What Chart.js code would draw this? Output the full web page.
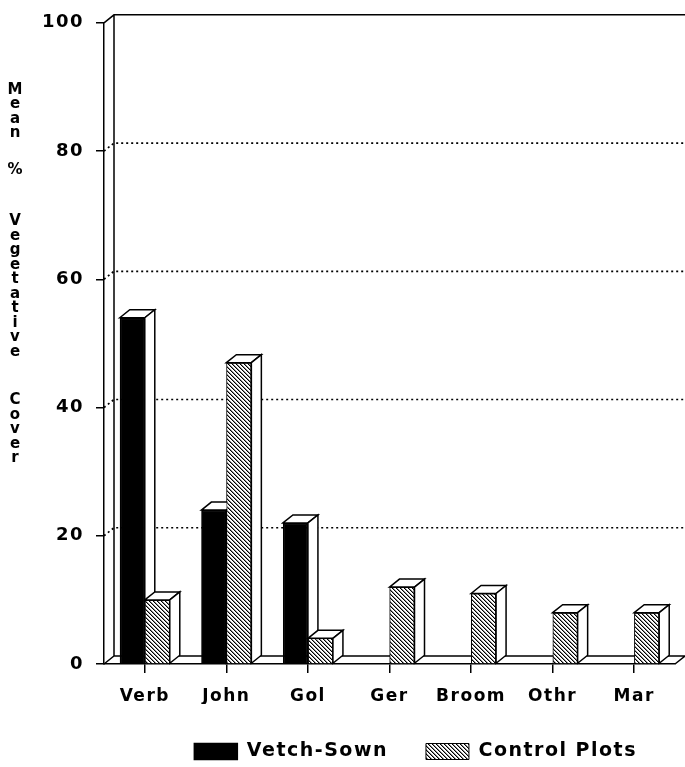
<!DOCTYPE html>
<html>
<head>
<meta charset="utf-8">
<script src="https://cdn.jsdelivr.net/npm/chart.js@4.4.1/dist/chart.umd.min.js"></script>
<style>
  html, body { margin: 0; padding: 0; background: #fff; }
  #wrap { width: 685px; height: 767px; position: relative; }
</style>
</head>
<body>
<div id="wrap"><canvas id="c" width="685" height="767"></canvas></div>
<script>
const categories = ['Verb', 'John', 'Gol', 'Ger', 'Broom', 'Othr', 'Mar'];
const vetchSown = [54, 24, 22, 0, 0, 0, 0];
const controlPlots = [10, 47, 4, 12, 11, 8, 8];
const seriesNames = ['Vetch-Sown', 'Control Plots'];
const yTickValues = [0, 20, 40, 60, 80, 100];
const yTitle = 'Mean % Vegetative Cover';

const FONT = 'DejaVu Sans';
const SPACING = '1.5px';
const DX = 10, DY = -8;

function makeHatch() {
  const s = 4;
  const c = document.createElement('canvas');
  c.width = s; c.height = s;
  const g = c.getContext('2d');
  const img = g.createImageData(s, s);
  for (let y = 0; y < s; y++) {
    for (let x = 0; x < s; x++) {
      const d = ((x - y) % s + s) % s;
      let v = 255;
      if (d === 0) v = 0; else if (d === 1) v = 140;
      const i = (y * s + x) * 4;
      img.data[i] = v; img.data[i + 1] = v; img.data[i + 2] = v; img.data[i + 3] = 255;
    }
  }
  g.putImageData(img, 0, 0);
  return document.getElementById('c').getContext('2d').createPattern(c, 'repeat');
}
const hatch = makeHatch();

const spacingPlugin = {
  id: 'spacing',
  beforeUpdate(chart) { chart.ctx.letterSpacing = SPACING; },
  beforeLayout(chart) { chart.ctx.letterSpacing = SPACING; },
  beforeDraw(chart) { chart.ctx.letterSpacing = SPACING; }
};

const framePlugin = {
  id: 'frame3d',
  beforeDatasetsDraw(chart) {
    const ctx = chart.ctx;
    const ys = chart.scales.y;
    const a = chart.chartArea;
    const W = chart.width;
    ctx.save();
    ctx.strokeStyle = '#000';
    ctx.lineWidth = 1.5;
    ctx.beginPath();
    ctx.moveTo(a.left, a.top); ctx.lineTo(a.left + DX, a.top + DY);
    ctx.lineTo(W, a.top + DY);
    ctx.moveTo(a.left + DX, a.top + DY); ctx.lineTo(a.left + DX, a.bottom + DY);
    ctx.moveTo(a.left, a.bottom); ctx.lineTo(a.left + DX, a.bottom + DY);
    ctx.lineTo(W, a.bottom + DY);
    ctx.moveTo(a.right, a.bottom); ctx.lineTo(a.right + DX, a.bottom + DY);
    ctx.stroke();
    ctx.setLineDash([2, 3]);
    ctx.lineWidth = 1.7;
    yTickValues.forEach(v => {
      if (v === 0 || v === 100) return;
      const py = ys.getPixelForValue(v);
      ctx.beginPath();
      ctx.moveTo(a.left, py);
      ctx.lineTo(a.left + DX, py + DY);
      ctx.lineTo(W, py + DY);
      ctx.stroke();
    });
    ctx.restore();
  },
  afterDatasetsDraw(chart) {
    const ctx = chart.ctx;
    const n = categories.length;
    ctx.save();
    for (let i = 0; i < n; i++) {
      for (let d = 0; d < chart.data.datasets.length; d++) {
        const meta = chart.getDatasetMeta(d);
        const val = chart.data.datasets[d].data[i];
        if (!val) continue;
        const el = meta.data[i];
        el.draw(ctx);
        const p = el.getProps(['x', 'y', 'base', 'width'], true);
        const l = p.x - p.width / 2, r = p.x + p.width / 2;
        ctx.fillStyle = '#fff';
        ctx.strokeStyle = '#000';
        ctx.lineWidth = 1.5;
        ctx.beginPath();
        ctx.moveTo(l, p.y); ctx.lineTo(l + DX, p.y + DY);
        ctx.lineTo(r + DX, p.y + DY); ctx.lineTo(r, p.y); ctx.closePath();
        ctx.fill(); ctx.stroke();
        ctx.beginPath();
        ctx.moveTo(r, p.y); ctx.lineTo(r + DX, p.y + DY);
        ctx.lineTo(r + DX, p.base + DY); ctx.lineTo(r, p.base); ctx.closePath();
        ctx.fill(); ctx.stroke();
      }
    }
    ctx.restore();
  },
  afterDraw(chart) {
    const ctx = chart.ctx;
    ctx.save();
    ctx.letterSpacing = '0px';
    ctx.fillStyle = '#000';
    ctx.font = 'bold 15px "' + FONT + '"';
    ctx.textAlign = 'center';
    ctx.textBaseline = 'middle';
    const words = yTitle.split(' ');
    const lh = 14.5;
    const gaps = [22, 37, 34];
    let y = 90;
    words.forEach((w, wi) => {
      for (const ch of w) { ctx.fillText(ch, 15, y); y += lh; }
      y += gaps[wi] || 0;
    });
    ctx.restore();
  }
};

Chart.defaults.color = '#000';
Chart.defaults.font.family = FONT;
Chart.defaults.font.weight = 'bold';

new Chart(document.getElementById('c'), {
  type: 'bar',
  data: {
    labels: categories,
    datasets: [
      { label: seriesNames[0], data: vetchSown, backgroundColor: '#000', borderColor: '#000', borderWidth: 1.5 },
      { label: seriesNames[1], data: controlPlots, backgroundColor: hatch, borderColor: '#000', borderWidth: 1 }
    ]
  },
  options: {
    responsive: false,
    animation: false,
    devicePixelRatio: 1,
    layout: { padding: { left: 0, right: 10, top: 20, bottom: 0 } },
    datasets: { bar: { categoryPercentage: 0.613, barPercentage: 1.0 } },
    plugins: {
      legend: {
        position: 'bottom',
        fullSize: false,
        align: 'end',
        maxHeight: 63,
        labels: { boxWidth: 43, boxHeight: 16, padding: 38, font: { size: 19, weight: 'bold', family: FONT }, color: '#000' }
      },
      tooltip: { enabled: false }
    },
    scales: {
      x: {
        grid: { display: true, drawOnChartArea: false, offset: false, drawTicks: true, tickLength: 9, color: '#000', lineWidth: 1.5 },
        border: { display: true, color: '#000', width: 1.5 },
        ticks: { padding: 13, font: { size: 17, weight: 'bold', family: FONT }, color: '#000', maxRotation: 0 },
        afterFit(s) { s.height = 40; }
      },
      y: {
        min: 0, max: 100,
        grid: { display: true, drawOnChartArea: false, drawTicks: true, tickLength: 8, color: '#000', lineWidth: 1.5 },
        border: { display: true, color: '#000', width: 1.5 },
        ticks: { stepSize: 20, padding: 12, font: { size: 18, weight: 'bold', family: FONT }, color: '#000' },
        afterFit(s) { s.width = 104; }
      }
    }
  },
  plugins: [spacingPlugin, framePlugin]
});
</script>
</body>
</html>
